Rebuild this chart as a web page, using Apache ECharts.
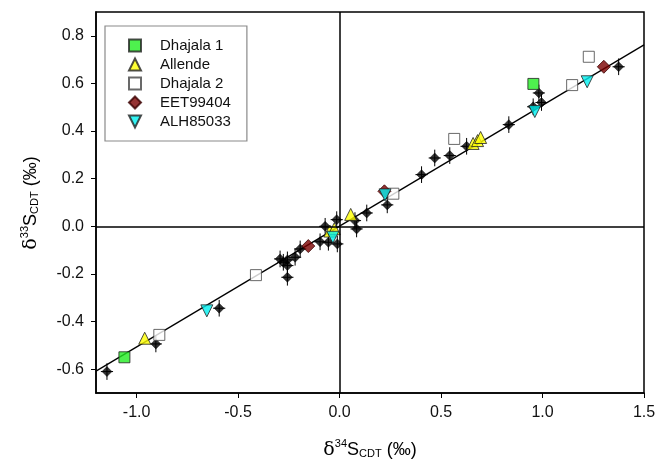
<!DOCTYPE html>
<html>
<head>
<meta charset="utf-8">
<script src="https://cdn.jsdelivr.net/npm/echarts@6/dist/echarts.min.js"></script>
<style>html,body{margin:0;padding:0;background:#fff;}#c{width:661px;height:462px;}</style>
</head>
<body>
<div id="c"></div>
<script>
// ---- data ----
const xTicks = [-1.0, -0.5, 0.0, 0.5, 1.0, 1.5];
const yTicks = [-0.6, -0.4, -0.2, 0.0, 0.2, 0.4, 0.6, 0.8];
const fitLine = [[-1.2, -0.608], [1.5, 0.762]];
const ERR_X = 0.03;
const ERR_Y = 0.035;
const blackPts = [
  [-1.146, -0.610], [-0.905, -0.494], [-0.593, -0.344], [-0.257, -0.214],
  [-0.293, -0.137], [-0.277, -0.151], [-0.257, -0.141], [-0.257, -0.165],
  [-0.219, -0.130], [-0.194, -0.095], [-0.096, -0.065], [-0.055, -0.067],
  [-0.011, -0.074], [-0.071, 0.000], [-0.014, 0.028], [0.076, 0.024],
  [0.084, -0.011], [0.134, 0.056], [0.235, 0.090], [0.404, 0.217],
  [0.469, 0.287], [0.543, 0.297], [0.626, 0.336], [0.834, 0.427],
  [0.954, 0.502], [0.995, 0.520], [0.982, 0.560], [1.375, 0.670]
];
const dhajala1 = [[-1.06, -0.550], [0.955, 0.598]];
const allende = [[-0.96, -0.470], [-0.048, -0.020], [-0.026, -0.010], [0.055, 0.050],
                 [0.658, 0.348], [0.680, 0.360], [0.695, 0.373]];
const dhajala2 = [[-0.888, -0.456], [-0.412, -0.205], [0.265, 0.137], [0.565, 0.367],
                  [1.146, 0.593], [1.228, 0.712]];
const eet99404 = [[-0.154, -0.083], [0.221, 0.147], [1.302, 0.670]];
const alh85033 = [[-0.654, -0.355], [-0.033, -0.046], [0.224, 0.132], [0.962, 0.482], [1.22, 0.607]];
const legendNames = ['Dhajala 1', 'Allende', 'Dhajala 2', 'EET99404', 'ALH85033'];

const FONT = '"Liberation Sans", Arial, sans-serif';
const chart = echarts.init(document.getElementById('c'), null, {renderer: 'canvas'});

const labelRich = {
  d: {fontSize: 19, fontFamily: 'DejaVu Serif, serif', lineHeight: 21, verticalAlign: 'bottom', color: '#111'},
  sup: {fontSize: 11, fontFamily: FONT, lineHeight: 11, verticalAlign: 'top', color: '#111'},
  m: {fontSize: 18, fontFamily: FONT, lineHeight: 21, verticalAlign: 'bottom', color: '#111'},
  sub: {fontSize: 11, fontFamily: FONT, lineHeight: 10, verticalAlign: 'bottom', color: '#111'}
};

const legendData = legendNames.map(n => n === 'ALH85033'
  ? {name: n, icon: 'path://M0,0 L10,0 L5,10 Z'} : {name: n});

const option = {
  animation: false,
  backgroundColor: '#fff',
  grid: {left: 96, right: 17, top: 12, bottom: 69, show: true, borderColor: '#000', borderWidth: 1.5, backgroundColor: 'transparent'},
  xAxis: {
    type: 'value', min: -1.2, max: 1.5,
    axisLine: {show: true, onZero: false, lineStyle: {color: '#000', width: 1.5}},
    axisTick: {show: true, inside: false, length: 5, customValues: xTicks, lineStyle: {color: '#000', width: 1}},
    axisLabel: {customValues: xTicks, margin: 12, fontSize: 16, fontFamily: FONT, color: '#111',
      formatter: v => v.toFixed(1)},
    splitLine: {show: false}
  },
  yAxis: {
    type: 'value', min: -0.7, max: 0.9,
    axisLine: {show: true, onZero: false, lineStyle: {color: '#000', width: 1.5}},
    axisTick: {show: true, inside: false, length: 5, customValues: yTicks, lineStyle: {color: '#000', width: 1}},
    axisLabel: {customValues: yTicks, margin: 12, fontSize: 16, fontFamily: FONT, color: '#111',
      formatter: v => v.toFixed(1)},
    splitLine: {show: false}
  },
  legend: {
    orient: 'vertical', left: 105, top: 26,
    data: legendData,
    itemWidth: 12, itemHeight: 12, itemGap: 4,
    padding: [12, 16, 12, 23],
    borderColor: '#8a8a8a', borderWidth: 1.2, backgroundColor: '#fff',
    formatter: name => '{t|' + name + '}',
    textStyle: {fontSize: 15, lineHeight: 15, fontFamily: FONT, color: '#111',
      rich: {t: {fontSize: 15, lineHeight: 15, fontFamily: FONT, color: '#111', padding: [0, 0, 0, 14]}}},
    selectedMode: false
  },
  graphic: [
    {type: 'text', x: 370, y: 449, z: 100,
     style: {text: '{d|δ}{sup|34}{m|S}{sub|CDT}{m| (‰)}', rich: labelRich, align: 'center', verticalAlign: 'middle', textAlign: 'center', textVerticalAlign: 'middle'}},
    {type: 'text', x: 30, y: 203, rotation: Math.PI / 2, z: 100,
     style: {text: '{d|δ}{sup|33}{m|S}{sub|CDT}{m| (‰)}', rich: labelRich, align: 'center', verticalAlign: 'middle', textAlign: 'center', textVerticalAlign: 'middle'}}
  ],
  series: [
    {
      type: 'line', name: 'fit', data: fitLine, showSymbol: false, silent: true,
      lineStyle: {color: '#000', width: 1.3}, z: 1,
      markLine: {
        silent: true, symbol: 'none', label: {show: false},
        lineStyle: {color: '#000', width: 1.5, type: 'solid'},
        data: [{xAxis: 0}, {yAxis: 0}]
      }
    },
    {
      type: 'custom', name: 'errbars', data: blackPts, silent: true, z: 2,
      renderItem: function (params, api) {
        const x = api.value(0), y = api.value(1);
        const l = api.coord([x - ERR_X, y]), r = api.coord([x + ERR_X, y]);
        const t = api.coord([x, y + ERR_Y]), b = api.coord([x, y - ERR_Y]);
        const st = {stroke: '#000', lineWidth: 1};
        return {type: 'group', children: [
          {type: 'line', shape: {x1: l[0], y1: l[1], x2: r[0], y2: r[1]}, style: st},
          {type: 'line', shape: {x1: t[0], y1: t[1], x2: b[0], y2: b[1]}, style: st}
        ]};
      }
    },
    {type: 'scatter', name: 'black', data: blackPts, symbol: 'diamond', symbolSize: 10, z: 3,
     itemStyle: {color: '#000', borderColor: '#000', borderWidth: 0.5}},
    {type: 'scatter', name: 'Dhajala 1', data: dhajala1, symbol: 'rect', symbolSize: 11, z: 4,
     itemStyle: {color: '#22ee22', borderColor: '#222', borderWidth: 1}},
    {type: 'scatter', name: 'Allende', data: allende, symbol: 'triangle', symbolSize: 12, z: 4,
     itemStyle: {color: '#ffff00', borderColor: '#222', borderWidth: 1}},
    {type: 'scatter', name: 'Dhajala 2', data: dhajala2, symbol: 'rect', symbolSize: 11, z: 4,
     itemStyle: {color: '#ffffff', borderColor: '#444', borderWidth: 1}},
    {type: 'scatter', name: 'EET99404', data: eet99404, symbol: 'diamond', symbolSize: 13, z: 4,
     itemStyle: {color: '#7a0000', borderColor: '#3a0000', borderWidth: 1}},
    {type: 'scatter', name: 'ALH85033', data: alh85033, symbol: 'triangle', symbolRotate: 180, symbolSize: 12, z: 4,
     itemStyle: {color: '#00f0f0', borderColor: '#222', borderWidth: 1}}
  ]
};
chart.setOption(option);
</script>
</body>
</html>
